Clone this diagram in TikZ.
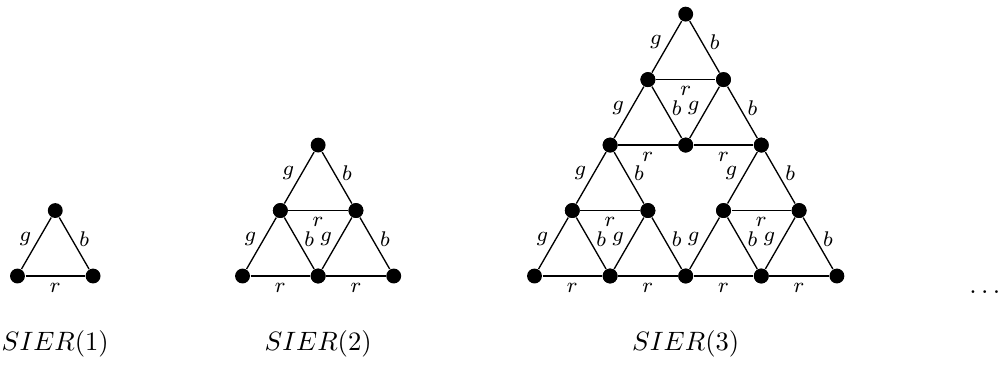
\documentclass[tikz,border=0pt]{standalone}
\usepackage{amsmath,amssymb}
\usepackage{tikz}
\usetikzlibrary{calc}

\tikzset{
  vtx/.style={circle, fill=black, inner sep=0pt, minimum size=5.6pt},
  elbl/.style={font=\footnotesize, inner sep=1.7pt},
  sidelbl/.style={elbl, yshift=1.7pt},
  baselbl/.style={elbl, inner sep=2.4pt},
}

% SIER(1): #1 = name, #2 = bottom left corner
\newcommand{\sierone}[2]{%
  \begin{scope}[shift={(#2)}]
    \node[vtx] (#1a) at (0, 0) {};
    \node[vtx] (#1b) at (1, 0) {};
    \node[vtx] (#1c) at (0.5, 0.866) {};
    \draw (#1a) -- node[sidelbl, left] {$g$} (#1c);
    \draw (#1c) -- node[sidelbl, right] {$b$} (#1b);
    \draw (#1a) -- node[baselbl, below] {$r$} (#1b);
  \end{scope}
}

% SIER(2): three copies of SIER(1)
\newcommand{\siertwo}[3]{%
  \sierone{#1l}{#2, #3}
  \sierone{#1r}{#2+1, #3}
  \sierone{#1t}{#2+0.5, #3+0.866}
}

\begin{document}
\begin{tikzpicture}[line width=0.5pt]
    \useasboundingbox (0, 0) rectangle (13.254, 4.868);

    % SIER(1)
    \sierone{sa}{0.231, 1.217}
    \node[anchor=base] (ta) at (0.731, 0.238) {$SIER(1)$};

    % SIER(2)
    \siertwo{sb}{3.208}{1.217}
    \node[anchor=base] (tb) at (4.208, 0.238) {$SIER(2)$};

    % SIER(3)
    \siertwo{scl}{7.070}{1.217}
    \siertwo{scr}{9.070}{1.217}
    \siertwo{sct}{8.070}{2.949}
    \node[anchor=base] (tc) at (9.070, 0.238) {$SIER(3)$};

    % and so on
    \node[anchor=base, inner sep=0pt] (more) at (13.056, 0.98) {$\dots$};
\end{tikzpicture}
\end{document}
